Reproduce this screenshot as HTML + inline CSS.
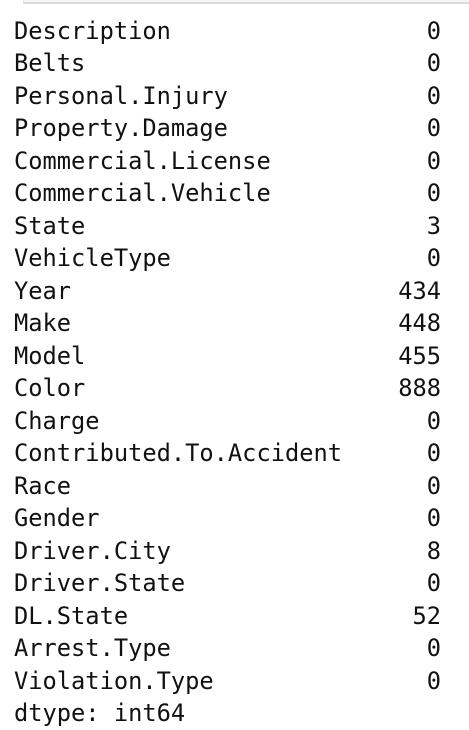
<!DOCTYPE html>
<html><head><meta charset="utf-8"><style>
body{margin:0;width:469px;height:730px;background:#fff;overflow:hidden;position:relative;font-family:"DejaVu Sans Mono","Liberation Mono",monospace;}
.top{position:absolute;left:23px;top:0;width:446px;height:2px;background:#f5f5f5;border-bottom:2px solid #dcdcdc;border-left:1px solid #e6e6e6;}
.out{position:absolute;left:14px;top:14.5px;width:427px;font-size:23.7px;line-height:32.5px;color:#111;}
.row{display:flex;justify-content:space-between;white-space:pre;}
</style></head><body>
<div class="top"></div>
<div class="out">
<div class="row"><span>Description</span><span>0</span></div>
<div class="row"><span>Belts</span><span>0</span></div>
<div class="row"><span>Personal.Injury</span><span>0</span></div>
<div class="row"><span>Property.Damage</span><span>0</span></div>
<div class="row"><span>Commercial.License</span><span>0</span></div>
<div class="row"><span>Commercial.Vehicle</span><span>0</span></div>
<div class="row"><span>State</span><span>3</span></div>
<div class="row"><span>VehicleType</span><span>0</span></div>
<div class="row"><span>Year</span><span>434</span></div>
<div class="row"><span>Make</span><span>448</span></div>
<div class="row"><span>Model</span><span>455</span></div>
<div class="row"><span>Color</span><span>888</span></div>
<div class="row"><span>Charge</span><span>0</span></div>
<div class="row"><span>Contributed.To.Accident</span><span>0</span></div>
<div class="row"><span>Race</span><span>0</span></div>
<div class="row"><span>Gender</span><span>0</span></div>
<div class="row"><span>Driver.City</span><span>8</span></div>
<div class="row"><span>Driver.State</span><span>0</span></div>
<div class="row"><span>DL.State</span><span>52</span></div>
<div class="row"><span>Arrest.Type</span><span>0</span></div>
<div class="row"><span>Violation.Type</span><span>0</span></div>
<div class="row"><span>dtype: int64</span><span></span></div>
</div>
</body></html>
